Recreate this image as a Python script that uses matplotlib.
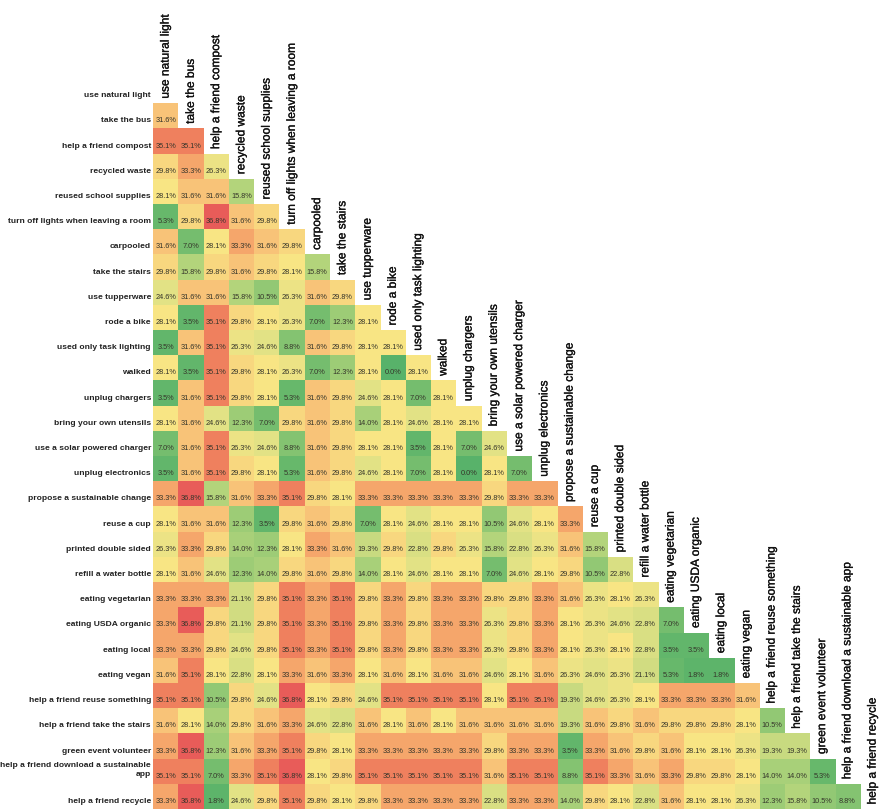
import numpy as np
import matplotlib.pyplot as plt
import matplotlib.patheffects as pe
from matplotlib.colors import LinearSegmentedColormap, Normalize

plt.rcParams['font.family'] = ['Liberation Sans', 'DejaVu Sans']

actions = [
    "use natural light", "take the bus", "help a friend compost", "recycled waste",
    "reused school supplies", "turn off lights when leaving a room", "carpooled",
    "take the stairs", "use tupperware", "rode a bike", "used only task lighting",
    "walked", "unplug chargers", "bring your own utensils",
    "use a solar powered charger", "unplug electronics",
    "propose a sustainable change", "reuse a cup", "printed double sided",
    "refill a water bottle", "eating vegetarian", "eating USDA organic",
    "eating local", "eating vegan", "help a friend reuse something",
    "help a friend take the stairs", "green event volunteer",
    "help a friend download a sustainable app", "help a friend recycle",
]

# lower triangle, row i holds the values against columns 0..i-1 (percent)
overlap = [
    [],
    [31.6],
    [35.1, 35.1],
    [29.8, 33.3, 26.3],
    [28.1, 31.6, 31.6, 15.8],
    [5.3, 29.8, 36.8, 31.6, 29.8],
    [31.6, 7.0, 28.1, 33.3, 31.6, 29.8],
    [29.8, 15.8, 29.8, 31.6, 29.8, 28.1, 15.8],
    [24.6, 31.6, 31.6, 15.8, 10.5, 26.3, 31.6, 29.8],
    [28.1, 3.5, 35.1, 29.8, 28.1, 26.3, 7.0, 12.3, 28.1],
    [3.5, 31.6, 35.1, 26.3, 24.6, 8.8, 31.6, 29.8, 28.1, 28.1],
    [28.1, 3.5, 35.1, 29.8, 28.1, 26.3, 7.0, 12.3, 28.1, 0.0, 28.1],
    [3.5, 31.6, 35.1, 29.8, 28.1, 5.3, 31.6, 29.8, 24.6, 28.1, 7.0, 28.1],
    [28.1, 31.6, 24.6, 12.3, 7.0, 29.8, 31.6, 29.8, 14.0, 28.1, 24.6, 28.1, 28.1],
    [7.0, 31.6, 35.1, 26.3, 24.6, 8.8, 31.6, 29.8, 28.1, 28.1, 3.5, 28.1, 7.0, 24.6],
    [3.5, 31.6, 35.1, 29.8, 28.1, 5.3, 31.6, 29.8, 24.6, 28.1, 7.0, 28.1, 0.0, 28.1, 7.0],
    [33.3, 36.8, 15.8, 31.6, 33.3, 35.1, 29.8, 28.1, 33.3, 33.3, 33.3, 33.3, 33.3, 29.8,
     33.3, 33.3],
    [28.1, 31.6, 31.6, 12.3, 3.5, 29.8, 31.6, 29.8, 7.0, 28.1, 24.6, 28.1, 28.1, 10.5,
     24.6, 28.1, 33.3],
    [26.3, 33.3, 29.8, 14.0, 12.3, 28.1, 33.3, 31.6, 19.3, 29.8, 22.8, 29.8, 26.3, 15.8,
     22.8, 26.3, 31.6, 15.8],
    [28.1, 31.6, 24.6, 12.3, 14.0, 29.8, 31.6, 29.8, 14.0, 28.1, 24.6, 28.1, 28.1, 7.0,
     24.6, 28.1, 29.8, 10.5, 22.8],
    [33.3, 33.3, 33.3, 21.1, 29.8, 35.1, 33.3, 35.1, 29.8, 33.3, 29.8, 33.3, 33.3, 29.8,
     29.8, 33.3, 31.6, 26.3, 28.1, 26.3],
    [33.3, 36.8, 29.8, 21.1, 29.8, 35.1, 33.3, 35.1, 29.8, 33.3, 29.8, 33.3, 33.3, 26.3,
     29.8, 33.3, 28.1, 26.3, 24.6, 22.8, 7.0],
    [33.3, 33.3, 29.8, 24.6, 29.8, 35.1, 33.3, 35.1, 29.8, 33.3, 29.8, 33.3, 33.3, 26.3,
     29.8, 33.3, 28.1, 26.3, 28.1, 22.8, 3.5, 3.5],
    [31.6, 35.1, 28.1, 22.8, 28.1, 33.3, 31.6, 33.3, 28.1, 31.6, 28.1, 31.6, 31.6, 24.6,
     28.1, 31.6, 26.3, 24.6, 26.3, 21.1, 5.3, 1.8, 1.8],
    [35.1, 35.1, 10.5, 29.8, 24.6, 36.8, 28.1, 29.8, 24.6, 35.1, 35.1, 35.1, 35.1, 28.1,
     35.1, 35.1, 19.3, 24.6, 26.3, 28.1, 33.3, 33.3, 33.3, 31.6],
    [31.6, 28.1, 14.0, 29.8, 31.6, 33.3, 24.6, 22.8, 31.6, 28.1, 31.6, 28.1, 31.6, 31.6,
     31.6, 31.6, 19.3, 31.6, 29.8, 31.6, 29.8, 29.8, 29.8, 28.1, 10.5],
    [33.3, 36.8, 12.3, 31.6, 33.3, 35.1, 29.8, 28.1, 33.3, 33.3, 33.3, 33.3, 33.3, 29.8,
     33.3, 33.3, 3.5, 33.3, 31.6, 29.8, 31.6, 28.1, 28.1, 26.3, 19.3, 19.3],
    [35.1, 35.1, 7.0, 33.3, 35.1, 36.8, 28.1, 29.8, 35.1, 35.1, 35.1, 35.1, 35.1, 31.6,
     35.1, 35.1, 8.8, 35.1, 33.3, 31.6, 33.3, 29.8, 29.8, 28.1, 14.0, 14.0, 5.3],
    [33.3, 36.8, 1.8, 24.6, 29.8, 35.1, 29.8, 28.1, 29.8, 33.3, 33.3, 33.3, 33.3, 22.8,
     33.3, 33.3, 14.0, 29.8, 28.1, 22.8, 31.6, 28.1, 28.1, 26.3, 12.3, 15.8, 10.5, 8.8],
]

n = len(actions)
mat = np.full((n, n - 1), np.nan)
for i, vals in enumerate(overlap):
    mat[i, :len(vals)] = vals

# green -> yellow -> red, stretched so the yellow sits around 28%
stops = [0.0, 5.3, 10.5, 15.8, 21.1, 24.6, 28.1, 29.8, 31.6, 33.3, 35.1, 36.8]
stop_colors = ['#58b26a', '#68b96c', '#92c874', '#b4d57c', '#d2dd82', '#e2e285',
               '#f8e685', '#f8d880', '#f9c479', '#f6a76c', '#f0835f', '#e85c59']
vmax = 36.8
cmap = LinearSegmentedColormap.from_list(
    'overlap', [(s / vmax, c) for s, c in zip(stops, stop_colors)])

fig = plt.figure(figsize=(8.8, 8.09), dpi=100)
cell_w = 25.25 / 880
ax = fig.add_axes([153 / 880, 0.0, (n - 1) * cell_w, 731 / 809])
ax.imshow(mat, cmap=cmap, norm=Normalize(0, vmax), aspect='auto',
          interpolation='nearest', extent=(0, n - 1, n, 0))
ax.set_xlim(0, n - 1)
ax.set_ylim(n, 0)
ax.axis('off')

for i, vals in enumerate(overlap):
    for j, v in enumerate(vals):
        ax.text(j + 0.5, i + 0.7, f"{v:.1f}%", ha='center', va='center',
                fontsize=5.3, color='#35352a')

heavy = [pe.withStroke(linewidth=0.2, foreground='#111111')]
for i, name in enumerate(actions):
    label = name
    y = i + 0.7
    if name == "help a friend download a sustainable app":
        label = "help a friend download a sustainable\napp"
        y = i + 0.45
    ax.text(-0.08, y, label, ha='right', va='center', fontsize=6.1,
            fontweight='bold', color='#222222', clip_on=False, linespacing=1.3)
    ax.text(i + 0.5, i + 0.82, name, rotation=90, ha='center', va='bottom',
            fontsize=8.6, color='#111111', clip_on=False, path_effects=heavy)

fig.savefig('out.png', dpi=100)
